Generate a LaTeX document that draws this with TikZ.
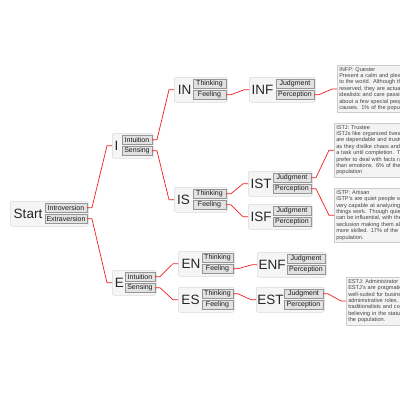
\documentclass[tikz,border=0pt]{standalone}
\usepackage{fontspec}
\setmainfont{Liberation Sans}
\usetikzlibrary{calc}
\definecolor{linered}{RGB}{240,30,30}
\definecolor{boxfill}{RGB}{245,245,245}
\definecolor{boxline}{RGB}{218,218,218}
\definecolor{btnfill}{RGB}{226,226,226}
\definecolor{btnline}{RGB}{150,150,150}
\definecolor{infofill}{RGB}{243,243,243}
\definecolor{infoline}{RGB}{205,205,205}
\definecolor{infotext}{RGB}{70,70,70}
\tikzset{
  outerbox/.style={draw=boxline, fill=boxfill, rounded corners=2pt, line width=0.5pt, inner sep=0pt},
  biglabel/.style={inner sep=0pt, font=\fontsize{13.5}{14}\selectfont, text=black!85},
  btn/.style={draw=btnline, fill=btnfill, line width=0.45pt, inner sep=0pt, minimum height=9, font=\fontsize{7}{8}\selectfont, text=black!90},
  conn/.style={draw=linered, line width=0.7pt},
  infobox/.style={draw=infoline, fill=infofill, line width=0.5pt, anchor=north west, inner sep=2pt, align=left, text width=110pt, font=\fontsize{5.6}{6.4}\selectfont, text=infotext}
}
\newcommand\mnode[9]{%
  \node[outerbox, anchor=north west, minimum width={#4-#2}, minimum height=25] (#1) at (#2,#3) {};
  \node[biglabel] (#1-l) at (#5,#3+12.5) {#6};
  \node[btn, anchor=north west, minimum width={#4-1.5-#7}] (#1-a) at (#7,#3+2) {#8};
  \node[btn, anchor=north west, minimum width={#4-1.5-#7}] (#1-b) at (#7,#3+13) {#9};
}
\newcommand\conn[2]{\draw[conn] (#1.east) -- ++(5,0) -- ($(#2.west)+(-5,0)$) -- (#2.west);}
\begin{document}
\begin{tikzpicture}[x=1pt,y=-1pt]
\useasboundingbox (0,0) rectangle (400,400);
\clip (0,0) rectangle (400,400);
\fill[white] (0,0) rectangle (400,400);

\mnode{start}{10}{201}{88}{28}{Start}{45}{Introversion}{Extraversion}
\mnode{i}{112}{133}{153}{116.5}{I}{122}{Intuition}{Sensing}
\mnode{in}{174}{77}{227}{184.5}{IN}{193}{Thinking}{Feeling}
\mnode{is}{174}{187}{227}{183.5}{IS}{193}{Thinking}{Feeling}
\mnode{inf}{249}{77}{315}{262.5}{INF}{276}{Judgment}{Perception}
\mnode{ist}{248}{171}{312}{261}{IST}{273}{Judgment}{Perception}
\mnode{isf}{248}{204}{312}{261}{ISF}{273}{Judgment}{Perception}
\mnode{e}{112}{270}{156}{119.5}{E}{125}{Intuition}{Sensing}
\mnode{en}{178}{251}{234}{191}{EN}{202}{Thinking}{Feeling}
\mnode{es}{178}{287}{234}{190.5}{ES}{202}{Thinking}{Feeling}
\mnode{enf}{257}{252}{326}{272}{ENF}{287}{Judgment}{Perception}
\mnode{est}{256}{287}{324}{270.5}{EST}{284}{Judgment}{Perception}

\node[infobox] (infp) at (337,65) {INFP: Quester\\Present a calm and pleasant face\\to the world. Although they are\\reserved, they are actually\\idealistic and care passionately\\about a few special people or\\causes. 1\% of the population.};
\node[infobox] (istj) at (334,123) {ISTJ: Trustee\\ISTJs like organized lives and\\are dependable and trustworthy\\as they dislike chaos and stick to\\a task until completion. They\\prefer to deal with facts rather\\than emotions. 6\% of the\\population};
\node[infobox] (istp) at (334,188) {ISTP: Artisan\\ISTP's are quiet people who are\\very capable at analyzing how\\things work. Though quiet, they\\can be influential, with their\\seclusion making them all the\\more skilled. 17\% of the\\population.};
\node[infobox] (estj) at (346,277) {ESTJ: Administrator\\ESTJ's are pragmatic and\\well-suited for business or\\administrative roles. They are\\traditionalists and conservative,\\believing in the status quo. 13\% of\\the population.};

\conn{start-a}{i}
\conn{start-b}{e}
\conn{i-a}{in}
\conn{i-b}{is}
\conn{in-b}{inf}
\conn{inf-b}{infp}
\conn{is-a}{ist}
\conn{is-b}{isf}
\conn{ist-a}{istj}
\conn{ist-b}{istp}
\conn{e-a}{en}
\conn{e-b}{es}
\conn{en-b}{enf}
\conn{es-a}{est}
\conn{est-a}{estj}
\end{tikzpicture}
\end{document}
